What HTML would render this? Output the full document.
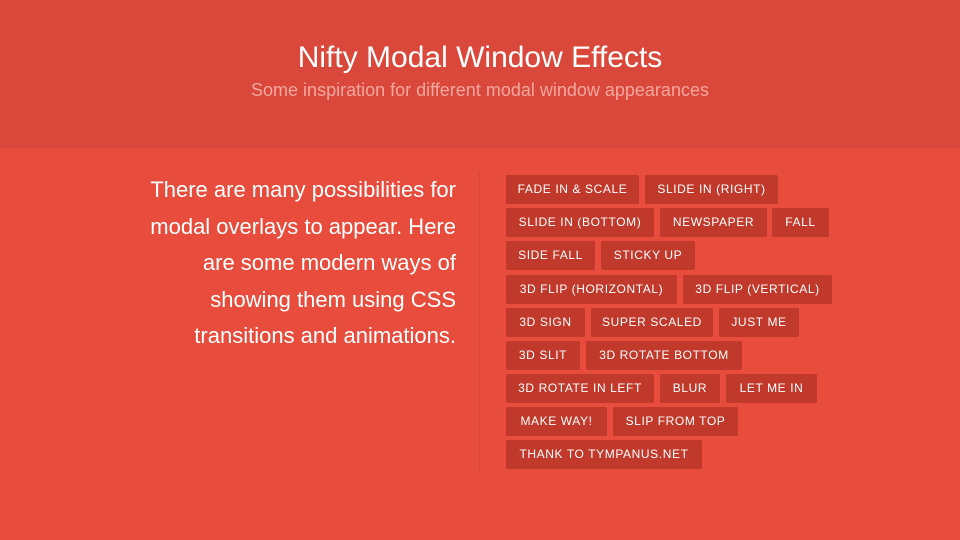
<!DOCTYPE html>
<html><head><meta charset="utf-8"><style>
*{margin:0;padding:0;box-sizing:border-box}
body{width:960px;height:540px;background:#e74c3c;font-family:"Liberation Sans",sans-serif;position:relative;overflow:hidden;color:#fff}
.hd{position:absolute;left:0;top:0;width:960px;height:148px;background:#d9483b}
.t{position:absolute;left:0;width:960px;text-align:center}
.left{position:absolute;right:504px;top:172px;text-align:right;font-size:22px;line-height:36.5px;color:#fff}
.div{position:absolute;left:479px;top:172px;width:1px;height:298px;background:#d4453a}
.b{position:absolute;height:29px;background:#c0392b;color:#fff;font-size:12px;letter-spacing:0.6px;line-height:29px;text-align:center;white-space:nowrap;border-radius:2px}
</style></head><body>
<div class="hd"></div>
<div class="t" style="top:41px;font-size:30px;">Nifty Modal Window Effects</div>
<div class="t" style="top:80px;font-size:18px;color:#f4a79e">Some inspiration for different modal window appearances</div>
<div class="left">There are many possibilities for<br>modal overlays to appear. Here<br>are some modern ways of<br>showing them using CSS<br>transitions and animations.</div>
<div class="div"></div>
<div class="b" style="left:506px;top:175px;width:133px">FADE IN &amp; SCALE</div>
<div class="b" style="left:645px;top:175px;width:133px">SLIDE IN (RIGHT)</div>
<div class="b" style="left:506px;top:208px;width:148px">SLIDE IN (BOTTOM)</div>
<div class="b" style="left:660px;top:208px;width:107px">NEWSPAPER</div>
<div class="b" style="left:772px;top:208px;width:57px">FALL</div>
<div class="b" style="left:506px;top:241px;width:89px">SIDE FALL</div>
<div class="b" style="left:601px;top:241px;width:94px">STICKY UP</div>
<div class="b" style="left:506px;top:275px;width:171px">3D FLIP (HORIZONTAL)</div>
<div class="b" style="left:683px;top:275px;width:149px">3D FLIP (VERTICAL)</div>
<div class="b" style="left:506px;top:308px;width:79px">3D SIGN</div>
<div class="b" style="left:591px;top:308px;width:122px">SUPER SCALED</div>
<div class="b" style="left:719px;top:308px;width:80px">JUST ME</div>
<div class="b" style="left:506px;top:341px;width:74px">3D SLIT</div>
<div class="b" style="left:586px;top:341px;width:156px">3D ROTATE BOTTOM</div>
<div class="b" style="left:506px;top:374px;width:148px">3D ROTATE IN LEFT</div>
<div class="b" style="left:660px;top:374px;width:60px">BLUR</div>
<div class="b" style="left:726px;top:374px;width:91px">LET ME IN</div>
<div class="b" style="left:506px;top:407px;width:101px">MAKE WAY!</div>
<div class="b" style="left:613px;top:407px;width:125px">SLIP FROM TOP</div>
<div class="b" style="left:506px;top:440px;width:196px">THANK TO TYMPANUS.NET</div>
</body></html>
